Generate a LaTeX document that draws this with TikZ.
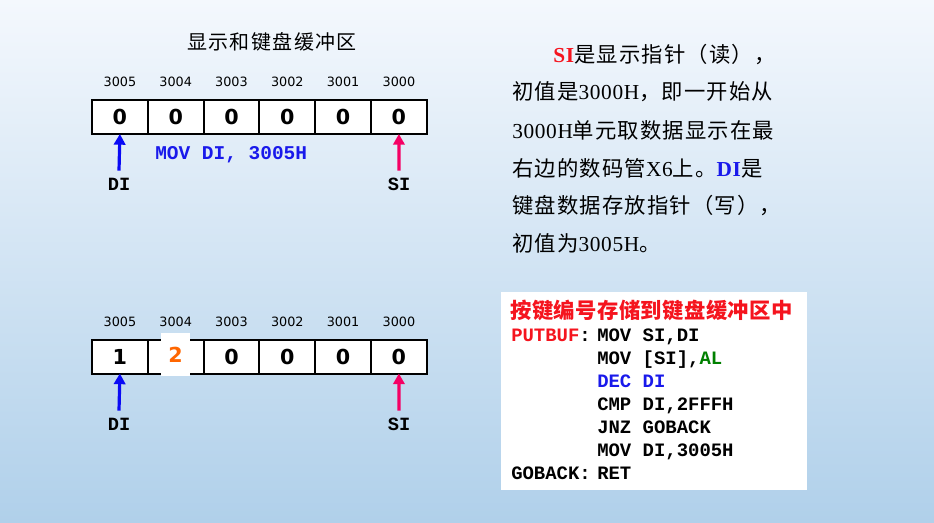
\documentclass[tikz,border=0pt]{standalone}
\usepackage{fontspec}
\setmainfont{Liberation Serif}
\newfontfamily\cjk[LetterSpace=5.5]{Noto Sans CJK SC}
\newfontfamily\cjktitle[LetterSpace=7]{Noto Sans CJK SC}
\newfontfamily\cjkhead[LetterSpace=2]{Noto Sans CJK SC}
\newfontfamily\latfont[LetterSpace=3]{Liberation Serif}
\newfontfamily\codefont{Liberation Mono}
\newfontfamily\numfont{DejaVu Sans}
\usetikzlibrary{arrows.meta}
\definecolor{bgtop}{RGB}{244,248,253}
\definecolor{bgbot}{RGB}{176,208,234}
\definecolor{ptrblue}{RGB}{10,10,245}
\definecolor{ptrpink}{RGB}{245,0,100}
\definecolor{kred}{RGB}{245,20,30}
\definecolor{kblue}{RGB}{25,25,235}
\definecolor{korange}{RGB}{255,102,0}
\definecolor{kgreen}{RGB}{0,128,0}
\newcommand\lat[1]{{\latfont #1}}
% one unit = 0.75pt
\tikzset{
  cell/.style={draw=black, line width=1.5pt, fill=white, minimum width=41.85pt,
    minimum height=25.5pt, inner sep=0pt, outer sep=0pt,
    font=\numfont\bfseries\fontsize{15.5}{15.5}\selectfont},
  addr/.style={font=\numfont\fontsize{9.6}{9.6}\selectfont, inner sep=0pt},
  reg/.style={font=\codefont\bfseries\fontsize{14}{14}\selectfont, inner sep=0pt},
  arr/.style={line width=2.4pt, -{Triangle[width=8.5pt,length=8pt]}},
  para/.style={font=\cjk\fontsize{16}{16}\selectfont, anchor=west, inner sep=0pt},
  code/.style={font=\codefont\bfseries\fontsize{14.2}{14.2}\selectfont, anchor=base west, inner sep=0pt},
}
\begin{document}
\begin{tikzpicture}[x=0.75pt,y=-0.75pt]
  \useasboundingbox (0,0) rectangle (934,522);
  \shade[top color=bgtop, bottom color=bgbot] (0,0) rectangle (934,522);

  % buffer title
  \node[font=\cjktitle\fontsize{15}{15}\selectfont, inner sep=0pt] (title) at (272,42) {显示和键盘缓冲区};

  % upper buffer: all cells cleared
  \foreach \i/\a in {0/3005,1/3004,2/3003,3/3002,4/3001,5/3000} {
    \node[cell] (u\i) at ({119.9+55.8*\i},117) {0};
    \node[addr] (ua\i) at ({119.9+55.8*\i},82) {\a};
  }
  \node[reg] (udi) at (119,184) {DI};
  \node[reg] (usi) at (399,184) {SI};
  \draw[arr, ptrblue] ([yshift=10pt]udi.center) -- (u0.south);
  \draw[arr, ptrpink] ([yshift=10pt]usi.center) -- (u5.south);
  \node[reg, text=kblue, anchor=west, font=\codefont\bfseries\fontsize{14.6}{14.6}\selectfont] (movdi) at (155,155) {MOV DI, 3005H};

  % lower buffer: after two keys
  \foreach \i/\a/\v in {0/3005/1,1/3004/{},2/3003/0,3/3002/0,4/3001/0,5/3000/0} {
    \node[cell] (l\i) at ({119.9+55.8*\i},356.5) {\v};
    \node[addr] (la\i) at ({119.9+55.8*\i},322) {\a};
  }
  \node[fill=white, minimum width=21.75pt, minimum height=32.25pt, inner sep=0pt,
        font=\numfont\bfseries\fontsize{15.5}{15.5}\selectfont, text=korange] (two) at (175.5,354.5) {2};
  \node[reg] (ldi) at (119,424) {DI};
  \node[reg] (lsi) at (399,424) {SI};
  \draw[arr, ptrblue] ([yshift=10pt]ldi.center) -- (l0.south);
  \draw[arr, ptrpink] ([yshift=10pt]lsi.center) -- (l5.south);

  % explanation
  \node[para] (p1) at (553,55) {\textcolor{kred}{\latfont\bfseries SI}是显示指针（读），};
  \node[para] (p2) at (512,92) {初值是\lat{3000H}，即一开始从};
  \node[para] (p3) at (512,130) {\lat{3000H}单元取数据显示在最};
  \node[para] (p4) at (512,168) {右边的数码管\lat{X6}上。\textcolor{kblue}{\latfont\bfseries DI}是};
  \node[para] (p5) at (512,206) {键盘数据存放指针（写），};
  \node[para] (p6) at (512,243) {初值为\lat{3005H}。};

  % code listing
  \node[fill=white, minimum width=229.5pt, minimum height=148.5pt, inner sep=0pt] (listing) at (654,391) {};
  \node[font=\cjkhead\bfseries\fontsize{16}{16}\selectfont, text=kred, anchor=west, inner sep=0pt] (ltitle) at (510,310) {按键编号存储到键盘缓冲区中};
  \node[code, text=kred] (lab1) at (511,341) {PUTBUF\textcolor{black}{:}};
  \node[code] (c1) at (597,341) {MOV SI,DI};
  \node[code] (c2) at (597,364) {MOV [SI],\textcolor{kgreen}{AL}};
  \node[code, text=kblue] (c3) at (597,387) {DEC DI};
  \node[code] (c4) at (597,410) {CMP DI,2FFFH};
  \node[code] (c5) at (597,433) {JNZ GOBACK};
  \node[code] (c6) at (597,456) {MOV DI,3005H};
  \node[code] (lab2) at (511,479) {GOBACK:};
  \node[code] (c7) at (597,479) {RET};
\end{tikzpicture}
\end{document}
